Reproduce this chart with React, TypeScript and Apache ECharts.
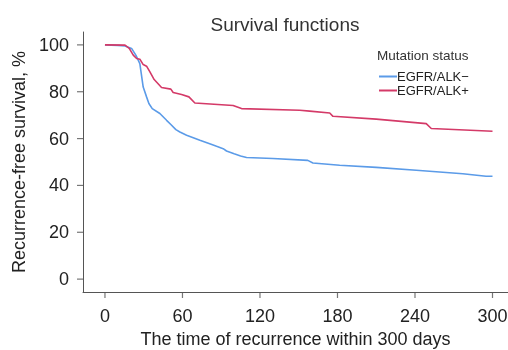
import React, { useEffect, useRef } from "react";
import * as echarts from "echarts";

const title = "Survival functions";
const legendTitle = "Mutation status";
const seriesNames = ["EGFR/ALK−", "EGFR/ALK+"];
const xTicks = [0, 60, 120, 180, 240, 300];
const yTicks = [0, 20, 40, 60, 80, 100];

const negT = [0, 10, 15.5, 20.6, 24, 27, 29.6, 32.2, 34, 36.6, 42.5, 47.7, 51, 54.9, 58, 63.2, 73.5, 80, 86.4, 91.5, 94.1, 100, 105, 109.6, 130, 157, 161, 181.7, 210, 241, 277, 295, 300];
const negV = [100, 99.8, 99.5, 98.5, 95.5, 92, 82, 77.8, 75, 72.8, 70.7, 67.8, 66, 63.8, 62.8, 61.4, 59.3, 58, 56.7, 55.7, 54.7, 53.5, 52.6, 51.9, 51.5, 50.7, 49.6, 48.6, 47.7, 46.5, 45, 43.9, 43.9];

const posT = [0, 15.5, 18.8, 21.9, 24.5, 27, 29.6, 32.2, 34.8, 38.1, 43.8, 51, 52.8, 59.3, 65, 69.6, 99.2, 105.7, 150.8, 158.5, 174, 176.5, 210, 248.7, 252.6, 300];
const posV = [100, 99.9, 98.5, 95.6, 94.2, 93.9, 91.6, 90.9, 88.5, 85.2, 81.8, 81.1, 79.7, 78.8, 77.8, 75.2, 74.1, 72.8, 72.1, 71.7, 70.9, 69.5, 68.3, 66.4, 64.3, 63.1];

const X_MIN = -17;
const X_MAX = 312;
const Y_MIN = -5.5;
const Y_MAX = 105.5;

const FONT = "'Liberation Sans', Arial, sans-serif";
const BLUE = "#5b9be8";
const RED = "#d43a68";
const AXIS = "#555";

export default function App() {
  const ref = useRef<HTMLDivElement>(null);
  useEffect(() => {
    if (!ref.current) return;
    const chart = echarts.init(ref.current, null, { renderer: "svg" });
    const axisLine = { show: true, onZero: false, lineStyle: { color: AXIS, width: 1 } };
    chart.setOption({
      animation: false,
      textStyle: { fontFamily: FONT },
      title: {
        text: title,
        left: 280,
        top: 10,
        textAlign: "center",
        textStyle: { fontFamily: FONT, fontSize: 19, fontWeight: "normal", color: "#333" },
      },
      grid: { left: 83, top: 32, width: 425, height: 260, containLabel: false, outerBoundsMode: "none" },
      legend: {
        orient: "vertical",
        left: 374,
        top: 65,
        itemGap: 1,
        itemWidth: 18,
        itemHeight: 2,
        icon: "rect",
        data: seriesNames,
        textStyle: { fontFamily: FONT, fontSize: 13, color: "#222", padding: [0, 0, 0, -5] },
      },
      graphic: [
        {
          type: "text",
          left: 377,
          top: 48,
          style: { text: legendTitle, fontFamily: FONT, fontSize: 13.5, fill: "#333" },
        },
      ],
      xAxis: {
        type: "value",
        min: X_MIN,
        max: X_MAX,
        axisLine,
        splitLine: { show: false },
        axisTick: { show: false },
        axisLabel: { customValues: xTicks, fontSize: 18, color: "#222", margin: 15, fontFamily: FONT },
        name: "The time of recurrence within 300 days",
        nameLocation: "middle",
        nameGap: 38,
        nameTextStyle: { fontSize: 18, color: "#222", fontFamily: FONT },
      },
      yAxis: {
        type: "value",
        min: Y_MIN,
        max: Y_MAX,
        axisLine,
        splitLine: { show: false },
        axisTick: { show: false },
        axisLabel: { customValues: yTicks, fontSize: 18, color: "#222", margin: 14, fontFamily: FONT },
        name: "Recurrence-free survival, %",
        nameLocation: "middle",
        nameGap: 52,
        nameTextStyle: { fontSize: 18, color: "#222", fontFamily: FONT },
      },
      series: [
        {
          name: seriesNames[0],
          type: "line",
          data: negT.map((t, i) => [t, negV[i]]),
          showSymbol: false,
          lineStyle: { color: BLUE, width: 1.6 },
          itemStyle: { color: BLUE },
        },
        {
          name: seriesNames[1],
          type: "line",
          data: posT.map((t, i) => [t, posV[i]]),
          showSymbol: false,
          lineStyle: { color: RED, width: 1.6 },
          itemStyle: { color: RED },
        },
        {
          name: "xticks",
          type: "scatter",
          data: xTicks.map((t) => [t, Y_MIN]),
          symbol: "rect",
          symbolSize: [1.2, 6],
          symbolOffset: [0, 3],
          clip: false,
          silent: true,
          itemStyle: { color: AXIS },
          z: 1,
        },
        {
          name: "yticks",
          type: "scatter",
          data: yTicks.map((v) => [X_MIN, v]),
          symbol: "rect",
          symbolSize: [6, 1.2],
          symbolOffset: [-3, 0],
          clip: false,
          silent: true,
          itemStyle: { color: AXIS },
          z: 1,
        },
      ],
    });
    return () => chart.dispose();
  }, []);
  return <div ref={ref} style={{ position: "fixed", left: 0, top: 0, width: 508, height: 350 }} />;
}
